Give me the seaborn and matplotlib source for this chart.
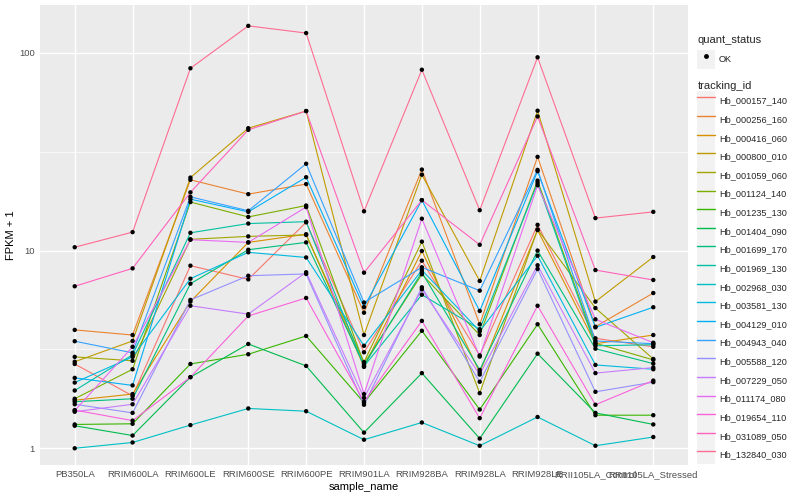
"""Isoform FPKM profiles across rubber tree samples (ggplot-like look)."""

import matplotlib

matplotlib.use("Agg")
import matplotlib.pyplot as plt
import numpy as np
import pandas as pd
import seaborn as sns
from matplotlib.legend_handler import HandlerTuple
from matplotlib.lines import Line2D
from matplotlib.patches import Patch

samples = ["PB350LA", "RRIM600LA", "RRIM600LE", "RRIM600SE", "RRIM600PE",
           "RRIM901LA", "RRIM928BA", "RRIM928LA", "RRIM928LE",
           "RRII105LA_Control", "RRII105LA_Stressed"]

hb_000157_140 = [2.67, 1.84, 8.39, 7.15, 13.9, 3.06, 8.89, 2.95, 13.5, 3.60, 3.26]
hb_000256_160 = [3.97, 3.74, 22.8, 19.3, 21.7, 4.85, 25.7, 4.24, 29.8, 4.12, 6.10]
hb_000416_060 = [1.75, 1.88, 5.52, 11.0, 12.1, 2.58, 9.95, 2.42, 12.7, 3.38, 3.74]
hb_000800_010 = [2.74, 3.49, 23.4, 41.6, 50.8, 3.74, 24.2, 7.02, 51.0, 5.52, 9.28]
hb_001059_060 = [2.90, 2.77, 11.4, 11.8, 12.0, 2.73, 11.1, 1.90, 12.8, 5.12, 2.83]
hb_001124_140 = [1.78, 2.51, 17.6, 14.8, 16.9, 2.68, 7.59, 3.74, 22.6, 3.40, 2.80]
hb_001235_130 = [1.32, 1.33, 2.67, 2.99, 3.70, 1.70, 3.93, 1.57, 4.24, 1.47, 1.47]
hb_001404_090 = [1.30, 1.16, 2.29, 3.37, 2.61, 1.20, 2.40, 1.12, 3.01, 1.51, 1.32]
hb_001699_170 = [1.72, 1.78, 6.80, 10.1, 11.0, 2.63, 7.77, 2.49, 10.0, 3.19, 2.68]
hb_001969_130 = [1.96, 2.97, 12.3, 13.7, 14.0, 2.60, 5.98, 4.00, 22.0, 3.30, 3.34]
hb_002968_030 = [1.00, 1.07, 1.31, 1.59, 1.54, 1.105, 1.35, 1.03, 1.44, 1.03, 1.14]
hb_003581_130 = [2.15, 2.90, 7.21, 9.80, 9.23, 3.30, 7.97, 3.91, 9.42, 2.64, 2.51]
hb_004129_010 = [2.27, 2.08, 18.2, 15.7, 23.5, 5.18, 18.0, 4.95, 25.2, 4.09, 5.17]
hb_004943_040 = [3.48, 3.04, 18.7, 15.9, 27.5, 5.46, 8.23, 6.27, 25.6, 3.49, 3.38]
hb_005588_120 = [1.67, 1.51, 5.63, 7.46, 7.62, 1.66, 6.52, 2.17, 8.07, 1.93, 2.16]
hb_007229_050 = [1.53, 1.67, 5.26, 4.77, 7.77, 1.80, 6.37, 2.36, 8.43, 2.40, 2.56]
hb_011174_080 = [1.55, 3.26, 11.35, 11.0, 16.6, 1.88, 14.5, 2.91, 21.4, 4.49, 3.42]
hb_019654_110 = [1.56, 1.38, 2.29, 4.67, 5.76, 1.72, 4.41, 1.42, 5.26, 1.66, 2.20]
hb_031089_050 = [6.60, 8.13, 19.7, 40.8, 50.8, 7.73, 18.0, 10.7, 47.7, 7.97, 7.10]
hb_132840_030 = [10.4, 12.4, 83.6, 137.0, 126.0, 15.8, 82.2, 16.0, 95.0, 14.6, 15.7]

series = {
    "Hb_000157_140": hb_000157_140, "Hb_000256_160": hb_000256_160,
    "Hb_000416_060": hb_000416_060, "Hb_000800_010": hb_000800_010,
    "Hb_001059_060": hb_001059_060, "Hb_001124_140": hb_001124_140,
    "Hb_001235_130": hb_001235_130, "Hb_001404_090": hb_001404_090,
    "Hb_001699_170": hb_001699_170, "Hb_001969_130": hb_001969_130,
    "Hb_002968_030": hb_002968_030, "Hb_003581_130": hb_003581_130,
    "Hb_004129_010": hb_004129_010, "Hb_004943_040": hb_004943_040,
    "Hb_005588_120": hb_005588_120, "Hb_007229_050": hb_007229_050,
    "Hb_011174_080": hb_011174_080, "Hb_019654_110": hb_019654_110,
    "Hb_031089_050": hb_031089_050, "Hb_132840_030": hb_132840_030,
}

# ggplot2 default hue palette for 20 levels
palette = ["#F8766D", "#EA8331", "#D89000", "#C09B00", "#A3A500", "#7CAE00",
           "#39B600", "#00BB4E", "#00BF7D", "#00C1A3", "#00BFC4", "#00BAE0",
           "#00B0F6", "#35A2FF", "#9590FF", "#C77CFF", "#E76BF3", "#FA62DB",
           "#FF62BC", "#FF6C91"]

rows = []
for tid, vals in series.items():
    for i, (s, v) in enumerate(zip(samples, vals)):
        rows.append({"tracking_id": tid, "sample_name": s, "pos": i,
                     "fpkm": v, "quant_status": "OK"})
df = pd.DataFrame(rows)

sns.set_style("darkgrid", {"axes.facecolor": "#EBEBEB", "grid.color": "white",
                           "axes.edgecolor": "#EBEBEB"})
plt.rcParams["font.family"] = ["Liberation Sans", "DejaVu Sans"]

fig, ax = plt.subplots(figsize=(8, 5), dpi=100)
fig.subplots_adjust(left=40 / 800, right=688 / 800, bottom=1 - 465 / 500, top=1 - 5 / 500)

ids = list(series.keys())
sns.lineplot(data=df, x="pos", y="fpkm", hue="tracking_id", hue_order=ids,
             palette=palette, linewidth=0.8, legend=False, ax=ax, sort=False,
             estimator=None)
sns.scatterplot(data=df, x="pos", y="fpkm", color="black", s=10, marker="o",
                edgecolor="none", legend=False, ax=ax, zorder=5)

ax.set_yscale("log")
ax.set_ylim(0.823, 174.7)
ax.set_xlim(-0.6, len(samples) - 0.4)
ax.set_yticks([1, 10, 100])
ax.set_yticklabels(["1", "10", "100"])
ax.set_yticks([10 ** 0.5, 10 ** 1.5], minor=True)
ax.set_xticks(range(len(samples)))
ax.set_xticklabels(samples)
ax.grid(True, which="major", color="white", linewidth=1.0)
ax.grid(True, which="minor", axis="y", color="white", linewidth=0.5)
ax.tick_params(which="major", length=2.2, width=0.7, color="#333333",
               labelsize=6.8, labelcolor="#4D4D4D", pad=1.5)
ax.tick_params(which="minor", length=0)
ax.set_xlabel("sample_name", fontsize=8, color="black", labelpad=2)
ax.set_ylabel("FPKM + 1", fontsize=8, color="black", labelpad=2)
for sp in ax.spines.values():
    sp.set_visible(False)

key_bg = "#F2F2F2"
qhandles = [(Patch(facecolor=key_bg, edgecolor="none"),
             Line2D([], [], marker="o", color="black", linestyle="none", markersize=2.5))]
leg1 = fig.legend(qhandles, ["OK"], title="quant_status", loc="upper left",
                  bbox_to_anchor=(691 / 800, 1 - 29 / 500), frameon=False,
                  fontsize=6.6, title_fontsize=8, handlelength=1.9, handleheight=2.75,
                  handletextpad=0.45, borderpad=0.2, alignment="left",
                  handler_map={tuple: HandlerTuple(ndivide=1)})

thandles = [(Patch(facecolor=key_bg, edgecolor="none"),
             Line2D([], [], color=c, linewidth=1.0)) for c in palette]
leg2 = fig.legend(thandles, ids, title="tracking_id", loc="upper left",
                  bbox_to_anchor=(691 / 800, 1 - 75 / 500), frameon=False,
                  fontsize=6.6, title_fontsize=8, handlelength=1.9, handleheight=2.75,
                  handletextpad=0.45, labelspacing=0.0, borderpad=0.2,
                  alignment="left", handler_map={tuple: HandlerTuple(ndivide=1)})

fig.savefig("out.png", dpi=100)
